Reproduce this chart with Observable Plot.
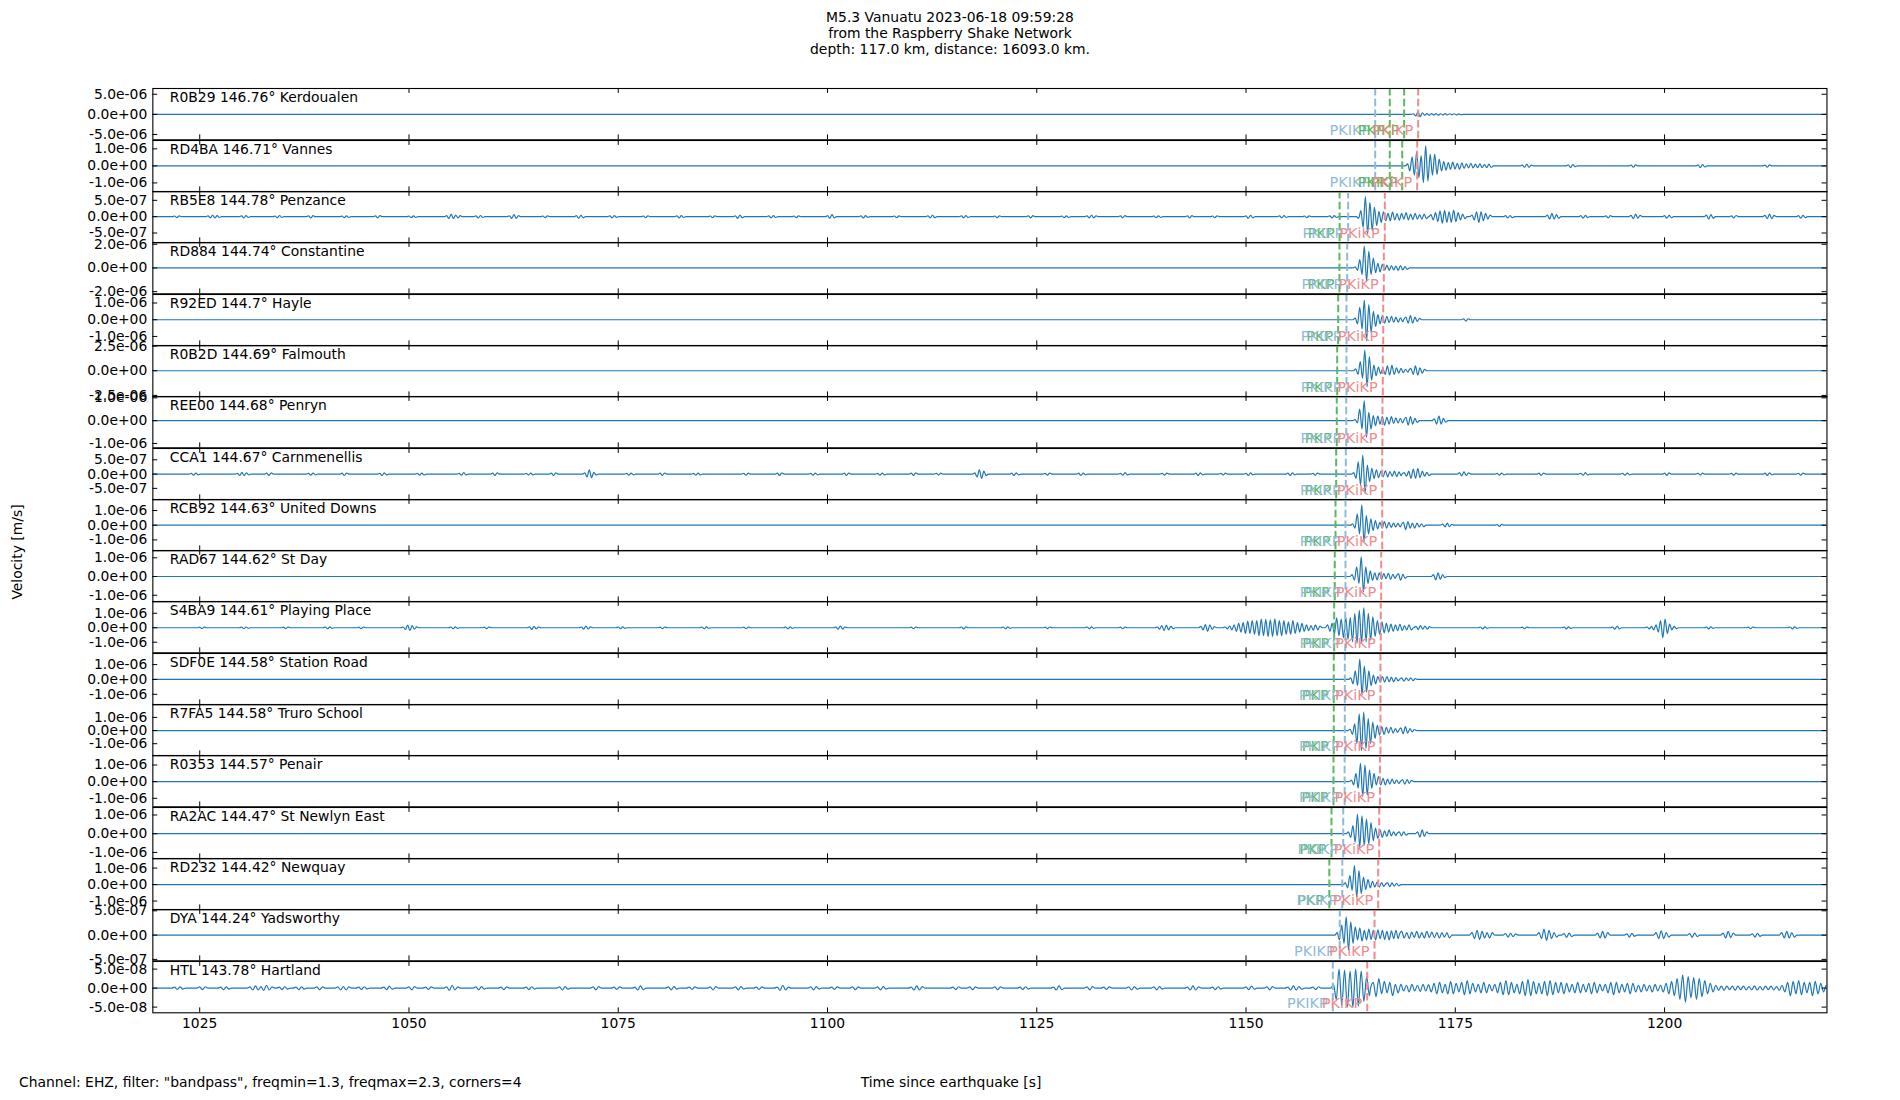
<!DOCTYPE html>
<html><head><meta charset="utf-8">
<script src="https://cdn.jsdelivr.net/npm/d3@7"></script>
<script src="https://cdn.jsdelivr.net/npm/@observablehq/plot@0.6"></script>
<style>
html,body{margin:0;padding:0;background:#fff;}
#fig{position:relative;width:1900px;height:1100px;font-family:"DejaVu Sans",sans-serif;color:#000;overflow:hidden;}
.panel{position:absolute;left:0;width:1900px;}
.t{position:absolute;font-size:13.9px;white-space:nowrap;line-height:16px;}
</style></head>
<body><div id="fig"></div>
<script>
// ---------- data ----------
const titleLines = ["M5.3 Vanuatu 2023-06-18 09:59:28", "from the Raspberry Shake Network", "depth: 117.0 km, distance: 16093.0 km."];
const yLabel = "Velocity [m/s]";
const xLabel = "Time since earthquake [s]";
const caption = 'Channel: EHZ, filter: "bandpass", freqmin=1.3, freqmax=2.3, corners=4';

const stations = ["R0B29","RD4BA","RB5E8","RD884","R92ED","R0B2D","REE00","CCA1","RCB92","RAD67","S4BA9","SDF0E","R7FA5","R0353","RA2AC","RD232","DYA","HTL"];
const distances = [146.76,146.71,144.78,144.74,144.7,144.69,144.68,144.67,144.63,144.62,144.61,144.58,144.58,144.57,144.47,144.42,144.24,143.78];
const places = ["Kerdoualen","Vannes","Penzance","Constantine","Hayle","Falmouth","Penryn","Carnmenellis","United Downs","St Day","Playing Place","Station Road","Truro School","Penair","St Newlyn East","Newquay","Yadsworthy","Hartland"];

const xDomain = [1019.4, 1219.4];
const xTicks = [1025,1050,1075,1100,1125,1150,1175,1200];
const yTicks = [5e-6,1e-6,5e-7,2e-6,1e-6,2.5e-6,1e-6,5e-7,1e-6,1e-6,1e-6,1e-6,1e-6,1e-6,1e-6,1e-6,5e-7,5e-8];
const yMax = [6.43e-6,1.49e-6,7.7e-7,2.15e-6,1.51e-6,2.56e-6,1.06e-6,8.95e-7,1.75e-6,1.39e-6,1.81e-6,1.75e-6,1.98e-6,1.57e-6,1.40e-6,1.58e-6,5.27e-7,7.0e-8];
const yMin = [-6.33e-6,-1.52e-6,-8.0e-7,-2.18e-6,-1.56e-6,-2.64e-6,-1.19e-6,-9.0e-7,-1.74e-6,-1.35e-6,-1.73e-6,-1.71e-6,-1.92e-6,-1.51e-6,-1.34e-6,-1.53e-6,-5.29e-7,-6.5e-8];

// phase arrival times [s]
const phaseNames = ["PKIKP","PKP","PKP","PKiKP"];
const tPKIKP = [1165.43,1165.43,1162.2,1162.08,1162.0,1162.0,1161.97,1161.92,1161.88,1161.88,1161.85,1161.8,1161.8,1161.78,1161.61,1161.5,1161.2,1160.37];
const tPKP1  = [1167.17,1167.17,1161.18,1161.16,1161.01,1160.89,1160.84,1160.77,1160.69,1160.6,1160.53,1160.48,1160.48,1160.45,1160.21,1159.95,null,null];
const tPKP2  = [1168.89,1168.66,null,null,null,null,null,null,null,null,null,null,null,null,null,null,null,null];
const tPKiKP = [1170.57,1170.45,1166.58,1166.46,1166.39,1166.34,1166.3,1166.27,1166.27,1166.15,1166.1,1166.06,1166.06,1166.0,1165.91,1165.79,1165.35,1164.48];

// main arrival wavelets: start time, sample step [s], extrema in units of each panel's tick value
const waveStart = [1170.0,1169.3,1163.45,1163.05,1163.05,1163.11,1163.04,1162.87,1162.75,1162.68,1159.75,1162.51,1162.44,1162.59,1162.23,1161.87,1160.89,1160.45];
const waveStep = [0.27,0.27,0.27,0.27,0.27,0.27,0.27,0.27,0.27,0.27,0.27,0.27,0.27,0.27,0.27,0.27,0.27,0.33];
const waveAmps = [
  [0.03,-0.08,0.13,-0.12,0.08,-0.05,0.04,-0.05,0.04,-0.03,0.04,-0.04,0.03,-0.03,0.04,-0.03,0.03,-0.02,0.03,-0.03,0.02,-0.02],
  [0.12,-0.3,0.53,-0.55,0.82,-0.69,0.6,-0.98,1.18,-0.9,0.69,-0.55,0.69,-0.5,0.4,-0.3,0.25,-0.25,0.2,-0.2,0.22,-0.18,0.15,-0.2,0.18,-0.15,0.12,-0.12,0.15,-0.12,0.1,-0.1,0.12,-0.1,0.08,-0.1,0.1,-0.08],
  [-0.1,0.37,-0.65,1.23,-1.06,0.88,-0.86,0.57,-0.55,0.33,-0.35,0.3,-0.25,0.2,-0.25,0.28,-0.2,0.18,-0.22,0.2,-0.15,0.25,-0.2,0.15,-0.18,0.2,-0.15,0.12,-0.15,0.15,-0.12],
  [0.05,-0.1,0.35,-0.28,0.92,-0.56,0.7,-0.28,0.42,-0.2,0.2,-0.17,0.15,-0.1,0.12,-0.1,0.1,-0.08,0.08,-0.1,0.1,-0.08,0.06,-0.06],
  [0.1,-0.25,0.74,-0.56,1.18,-1.26,0.9,-0.76,0.5,-0.4,0.3,-0.25,0.25,-0.2,0.2,-0.18,0.2,-0.15,0.15,-0.15,0.12,-0.12],
  [0.08,-0.15,0.37,-0.3,0.84,-0.65,0.57,-0.38,0.23,-0.2,0.15,-0.12,0.1,-0.15,0.2,-0.18,0.22,-0.15,0.12,-0.1,0.1,-0.08,0.06,-0.06],
  [0.05,-0.1,0.51,-0.37,0.88,-0.73,0.37,-0.37,0.22,-0.22,0.2,-0.15,0.18,-0.2,0.15,-0.15,0.18,-0.12,0.12,-0.1,0.1,-0.1],
  [0.1,-0.3,0.86,-0.77,1.33,-1.35,0.63,-0.53,0.4,-0.3,0.3,-0.25,0.2,-0.2,0.25,-0.2,0.18,-0.15,0.2,-0.18,0.15,-0.12],
  [0.1,-0.2,0.77,-0.59,1.38,-1.16,0.66,-0.59,0.43,-0.36,0.32,-0.25,0.2,-0.2,0.25,-0.2,0.2,-0.15,0.15,-0.12,0.12,-0.12],
  [0.1,-0.2,0.52,-0.37,1.05,-0.82,0.52,-0.37,0.3,-0.2,0.2,-0.18,0.2,-0.15,0.15,-0.12,0.18,-0.15,0.12,-0.1],
  [0.2,-0.25,0.3,-0.4,0.69,-0.55,0.6,-0.7,0.75,-0.8,0.7,-0.97,1.0,-1.08,1.2,-1.08,1.38,-0.97,1.0,-0.85,0.75,-0.6,0.5,-0.45,0.4,-0.35,0.3,-0.3,0.25,-0.25,0.2,-0.2,0.25,-0.2,0.15,-0.15,0.2,-0.15],
  [0.1,-0.3,0.58,-0.42,1.37,-1.06,0.9,-0.85,0.58,-0.42,0.3,-0.3,0.2,-0.2,0.2,-0.18,0.2,-0.15,0.15,-0.15,0.12,-0.1],
  [0.1,-0.3,0.5,-1.0,1.27,-1.52,1.4,-1.37,0.9,-0.99,0.65,-0.6,0.4,-0.35,0.3,-0.3,0.25,-0.2,0.25,-0.2,0.15,-0.15],
  [0.1,-0.2,0.5,-0.4,1.1,-0.9,1.0,-0.8,0.7,-0.4,0.5,-0.2,0.3,-0.2,0.2,-0.2,0.15,-0.15,0.15,-0.12,0.1,-0.1],
  [0.1,-0.2,0.43,-0.46,1.05,-0.73,0.96,-0.64,0.78,-0.55,0.6,-0.37,0.3,-0.25,0.2,-0.2,0.15,-0.15,0.2,-0.12,0.1,-0.1],
  [0.1,-0.2,0.55,-0.35,1.15,-0.75,0.85,-0.55,0.45,-0.3,0.3,-0.2,0.2,-0.15,0.15,-0.15,0.12,-0.1],
  [0.1,-0.2,0.41,-0.34,0.75,-0.62,0.55,-0.34,0.34,-0.2,0.3,-0.25,0.2,-0.2,0.25,-0.18,0.2,-0.2,0.22,-0.15,0.2,-0.18,0.15,-0.2,0.18,-0.15,0.2,-0.15],
  [0.2,-0.6,1.0,-0.9,0.95,-1.0,0.9,-1.0,1.0,-0.95,0.9,-0.7,0.6,-0.4]
];

// other wave packets: [panel, start, step, extrema in tick units]
const bursts = [
  [1,1183,0.27,[0.05,-0.08,0.1,-0.08,0.05]],[1,1188.5,0.27,[0.06,-0.1,0.08,-0.05]],[1,1196,0.27,[0.05,-0.08,0.06]],[1,1204,0.27,[0.06,-0.1,0.08,-0.06]],[1,1212,0.27,[0.05,-0.08,0.06]],
  [2,1026,0.27,[0.05,-0.08,0.1,-0.08,0.06,-0.05]],[2,1054.5,0.27,[0.06,-0.12,0.15,-0.12,0.1,-0.08,0.06]],[2,1062,0.27,[0.05,-0.1,0.12,-0.1,0.06]],
  [2,1070,0.27,[0.06,-0.1,0.08,-0.06]],[2,1089,0.27,[0.05,-0.1,0.1,-0.06]],[2,1100,0.27,[0.06,-0.1,0.12,-0.08]],[2,1112,0.27,[0.05,-0.08,0.1,-0.06]],
  [2,1131,0.27,[0.05,-0.08,0.1,-0.08,0.05]],[2,1150,0.27,[0.05,-0.1,0.08,-0.06]],
  [2,1022,0.27,[0.04,-0.06,0.05]],[2,1030,0.27,[0.05,-0.07,0.06,-0.05]],[2,1034,0.27,[0.04,-0.06,0.07,-0.05]],[2,1038,0.27,[0.05,-0.08,0.06]],
  [2,1042,0.27,[0.04,-0.06,0.05,-0.04]],[2,1046,0.27,[0.05,-0.07,0.06]],[2,1050,0.27,[0.04,-0.06,0.05,-0.05]],[2,1058,0.27,[0.05,-0.08,0.07,-0.05]],
  [2,1066,0.27,[0.04,-0.06,0.05]],[2,1074,0.27,[0.05,-0.07,0.06,-0.04]],[2,1078,0.27,[0.04,-0.06,0.05]],[2,1082,0.27,[0.05,-0.08,0.06,-0.05]],
  [2,1086,0.27,[0.04,-0.06,0.05]],[2,1093,0.27,[0.05,-0.07,0.06,-0.05]],[2,1096,0.27,[0.04,-0.06,0.05]],[2,1104,0.27,[0.05,-0.08,0.06,-0.04]],
  [2,1108,0.27,[0.04,-0.06,0.05]],[2,1116,0.27,[0.05,-0.07,0.06,-0.05]],[2,1120,0.27,[0.04,-0.06,0.05]],[2,1124,0.27,[0.05,-0.08,0.06]],
  [2,1128,0.27,[0.04,-0.06,0.05,-0.04]],[2,1135,0.27,[0.05,-0.07,0.06]],[2,1139,0.27,[0.04,-0.06,0.05,-0.05]],[2,1143,0.27,[0.05,-0.08,0.06]],
  [2,1146,0.27,[0.04,-0.06,0.05]],[2,1154,0.27,[0.05,-0.07,0.06,-0.05]],[2,1157,0.27,[0.04,-0.06,0.05]],[2,1160,0.27,[0.05,-0.08,0.06,-0.05]],
  [2,1172.1,0.27,[0.12,-0.2,0.25,-0.3,0.35,-0.4,0.38,-0.35,0.3,-0.35,0.4,-0.3,0.25,-0.2,0.15,-0.12]],
  [2,1177,0.27,[0.1,-0.2,0.3,-0.35,0.3,-0.25,0.2,-0.15,0.1]],[2,1186,0.27,[0.1,-0.15,0.2,-0.15,0.12,-0.1]],[2,1196,0.27,[0.08,-0.12,0.15,-0.1,0.08]],
  [2,1205,0.27,[0.1,-0.15,0.12,-0.1]],[2,1212,0.27,[0.08,-0.12,0.15,-0.12,0.08]],
  [2,1181,0.27,[0.06,-0.08,0.07,-0.06]],[2,1190,0.27,[0.06,-0.09,0.08,-0.05]],[2,1193,0.27,[0.05,-0.07,0.06]],[2,1200,0.27,[0.06,-0.09,0.08,-0.06]],
  [2,1208,0.27,[0.05,-0.08,0.07]],[2,1216,0.27,[0.06,-0.09,0.08,-0.06]],
  [4,1169.1,0.27,[0.15,-0.2,0.25,-0.2,0.15,-0.1,0.08]],[4,1176,0.27,[0.05,-0.08,0.06]],
  [5,1169.7,0.27,[0.1,-0.15,0.2,-0.18,0.12,-0.1,0.06]],
  [6,1169.1,0.27,[0.15,-0.2,0.18,-0.15,0.1,-0.08]],[6,1172.5,0.27,[0.08,-0.15,0.2,-0.15,0.1,-0.06]],
  [7,1029.5,0.27,[0.05,-0.1,0.12,-0.1,0.08,-0.05]],[7,1046.5,0.27,[0.05,-0.1,0.08,-0.06]],[7,1056,0.27,[0.05,-0.08,0.1,-0.06]],
  [7,1071,0.27,[0.08,-0.2,0.3,-0.25,0.12,-0.06]],[7,1090,0.27,[0.05,-0.08,0.06]],[7,1117.6,0.27,[0.08,-0.2,0.3,-0.3,0.2,-0.1]],
  [7,1135,0.27,[0.05,-0.08,0.1,-0.06]],[7,1150,0.27,[0.05,-0.1,0.08,-0.05]],
  [7,1024,0.27,[0.05,-0.08,0.07,-0.05]],[7,1033,0.27,[0.06,-0.09,0.08]],[7,1038,0.27,[0.05,-0.08,0.07,-0.05]],[7,1042,0.27,[0.06,-0.09,0.07]],
  [7,1051,0.27,[0.05,-0.08,0.07,-0.06]],[7,1060,0.27,[0.06,-0.09,0.08]],[7,1064,0.27,[0.05,-0.07,0.06,-0.05]],[7,1067,0.27,[0.06,-0.1,0.08]],
  [7,1076,0.27,[0.05,-0.08,0.07,-0.05]],[7,1080,0.27,[0.06,-0.09,0.07]],[7,1084,0.27,[0.05,-0.08,0.06,-0.05]],[7,1094,0.27,[0.06,-0.09,0.08]],
  [7,1098,0.27,[0.05,-0.08,0.07,-0.05]],[7,1102,0.27,[0.06,-0.09,0.07]],[7,1106,0.27,[0.05,-0.08,0.07,-0.06]],[7,1110,0.27,[0.06,-0.09,0.08]],
  [7,1113,0.27,[0.05,-0.07,0.06]],[7,1122,0.27,[0.06,-0.09,0.08,-0.05]],[7,1126,0.27,[0.05,-0.08,0.07]],[7,1130,0.27,[0.06,-0.09,0.07,-0.05]],
  [7,1140,0.27,[0.05,-0.08,0.07]],[7,1144,0.27,[0.06,-0.09,0.08,-0.05]],[7,1147,0.27,[0.05,-0.07,0.06]],[7,1155,0.27,[0.06,-0.09,0.08,-0.05]],
  [7,1158,0.27,[0.05,-0.08,0.07]],
  [7,1168.9,0.27,[0.1,-0.15,0.2,-0.3,0.35,-0.3,0.38,-0.25,0.2,-0.15,0.12,-0.1]],[7,1175.5,0.27,[0.1,-0.12,0.15,-0.1,0.08]],
  [7,1190,0.27,[0.05,-0.08,0.1,-0.06]],[7,1208,0.27,[0.05,-0.08,0.06]],
  [7,1180,0.27,[0.05,-0.08,0.07,-0.05]],[7,1185,0.27,[0.06,-0.09,0.07]],[7,1195,0.27,[0.05,-0.08,0.07,-0.05]],[7,1200,0.27,[0.06,-0.09,0.08]],
  [7,1204,0.27,[0.05,-0.07,0.06]],[7,1212,0.27,[0.06,-0.09,0.08,-0.05]],[7,1216,0.27,[0.05,-0.08,0.07]],
  [8,1168.8,0.27,[0.2,-0.3,0.25,-0.2,0.15,-0.2,0.15,-0.12,0.1,-0.1]],[8,1173.5,0.27,[0.08,-0.12,0.15,-0.1,0.06]],[8,1180,0.27,[0.05,-0.08,0.06]],
  [9,1168.2,0.27,[0.15,-0.2,0.12,-0.1]],[9,1172.4,0.27,[0.1,-0.18,0.2,-0.15,0.1,-0.06]],
  [10,1049.3,0.27,[0.05,-0.12,0.18,-0.2,0.15,-0.1,0.06]],[10,1064.4,0.27,[0.06,-0.12,0.1,-0.08,0.05]],[10,1070.6,0.27,[0.05,-0.1,0.12,-0.1,0.06]],
  [10,1101,0.27,[0.05,-0.1,0.12,-0.1,0.05]],[10,1116,0.27,[0.05,-0.08,0.06]],
  [10,1025,0.27,[0.04,-0.06,0.05]],[10,1030,0.27,[0.05,-0.07,0.05,-0.04]],[10,1035,0.27,[0.04,-0.06,0.05]],[10,1040,0.27,[0.05,-0.07,0.06,-0.04]],
  [10,1044,0.27,[0.04,-0.06,0.05]],[10,1055,0.27,[0.05,-0.07,0.06,-0.04]],[10,1059,0.27,[0.04,-0.06,0.05]],[10,1075,0.27,[0.05,-0.07,0.06,-0.04]],
  [10,1080,0.27,[0.04,-0.06,0.05]],[10,1085,0.27,[0.05,-0.07,0.06,-0.04]],[10,1090,0.27,[0.04,-0.06,0.05]],[10,1095,0.27,[0.05,-0.07,0.06,-0.04]],
  [10,1110,0.27,[0.04,-0.06,0.05]],[10,1121,0.27,[0.05,-0.07,0.06,-0.04]],[10,1126,0.27,[0.04,-0.06,0.05]],[10,1131,0.27,[0.05,-0.07,0.06,-0.04]],
  [10,1135,0.27,[0.04,-0.06,0.05]],
  [10,1139.4,0.27,[0.05,-0.1,0.15,-0.2,0.18,-0.15,0.1,-0.06]],[10,1144.6,0.27,[0.1,-0.15,0.22,-0.25,0.2,-0.12,0.08]],
  [10,1147.5,0.27,[0.05,-0.08,0.12,-0.15,0.2,-0.25,0.3,-0.3,0.35,-0.4,0.45,-0.4,0.5,-0.45,0.5,-0.55,0.6,-0.55,0.58,-0.6,0.55,-0.6,0.62,-0.55,0.5,-0.55,0.5,-0.45,0.4,-0.45,0.5,-0.4,0.35,-0.3,0.3,-0.25,0.2,-0.2,0.15,-0.18,0.2,-0.15,0.12]],
  [10,1170.3,0.27,[0.1,-0.12,0.15,-0.1,0.12,-0.1,0.08]],[10,1193.8,0.27,[0.05,-0.1,0.12,-0.08]],
  [10,1178,0.27,[0.05,-0.08,0.06,-0.04]],[10,1183,0.27,[0.04,-0.07,0.05]],[10,1188,0.27,[0.05,-0.08,0.06,-0.04]],
  [10,1205,0.27,[0.05,-0.08,0.06,-0.04]],[10,1210,0.27,[0.04,-0.07,0.05]],[10,1215,0.27,[0.05,-0.08,0.06,-0.04]],
  [10,1197.9,0.27,[0.05,-0.08,0.1,-0.15,0.2,-0.3,0.5,-0.7,0.6,-0.4,0.25,-0.15,0.1,-0.06]],
  [11,1168.6,0.27,[0.1,-0.12,0.1,-0.08,0.1,-0.08,0.06]],
  [12,1168.5,0.27,[0.2,-0.25,0.3,-0.2,0.15,-0.1,0.08]],
  [13,1168.7,0.27,[0.12,-0.15,0.12,-0.1,0.08]],
  [14,1168.3,0.27,[0.1,-0.12,0.1,-0.08]],[14,1170.5,0.27,[0.1,-0.18,0.2,-0.15,0.1]],
  [15,1166.9,0.27,[0.1,-0.12,0.1,-0.1,0.08,-0.08]],
  [16,1168.6,0.3,[0.15,-0.12,0.1,-0.15,0.12,-0.1,0.15,-0.12,0.1,-0.12,0.15,-0.1,0.12,-0.1,0.1,-0.12,0.1,-0.08,0.1,-0.12]],
  [16,1177,0.3,[0.1,-0.15,0.2,-0.18,0.15,-0.12,0.1,-0.12,0.1]],[16,1185,0.3,[0.1,-0.15,0.25,-0.22,0.2,-0.15,0.1,-0.08]],
  [16,1192,0.3,[0.08,-0.12,0.15,-0.12,0.1]],[16,1199,0.3,[0.1,-0.15,0.18,-0.15,0.1,-0.08]],
  [16,1207,0.3,[0.08,-0.12,0.15,-0.1,0.08]],[16,1214,0.3,[0.1,-0.12,0.15,-0.12,0.1,-0.08]],
  [16,1181,0.3,[0.06,-0.08,0.07,-0.06,0.05]],[16,1188,0.3,[0.06,-0.09,0.08,-0.06]],[16,1195.5,0.3,[0.05,-0.08,0.07,-0.05]],
  [16,1203,0.3,[0.06,-0.09,0.08,-0.06]],[16,1210.5,0.3,[0.05,-0.08,0.07,-0.05]],
  [17,1027.5,0.33,[0.05,-0.08,0.06,-0.05]],[17,1031,0.33,[0.06,-0.1,0.12,-0.1,0.08,-0.12,0.15,-0.1,0.06]],[17,1036.5,0.33,[0.05,-0.08,0.06,-0.05]],
  [17,1041.5,0.33,[0.06,-0.1,0.08,-0.1,0.06]],[17,1047,0.33,[0.05,-0.08,0.1,-0.06]],[17,1054.5,0.33,[0.06,-0.12,0.15,-0.1,0.06]],
  [17,1061,0.33,[0.05,-0.08,0.06]],[17,1068,0.33,[0.06,-0.1,0.08,-0.06]],[17,1077,0.33,[0.05,-0.1,0.12,-0.08]],
  [17,1086,0.33,[0.06,-0.1,0.08]],[17,1094,0.33,[0.05,-0.12,0.15,-0.1,0.05]],[17,1103,0.33,[0.06,-0.08,0.06]],
  [17,1110,0.33,[0.05,-0.1,0.12,-0.1,0.08]],[17,1120,0.33,[0.06,-0.08,0.06]],[17,1127,0.33,[0.05,-0.1,0.12,-0.08]],
  [17,1136,0.33,[0.06,-0.1,0.08,-0.06]],[17,1143,0.33,[0.05,-0.1,0.12,-0.1,0.06]],[17,1150,0.33,[0.06,-0.08,0.1,-0.06]],
  [17,1155,0.33,[0.05,-0.1,0.12,-0.1,0.08,-0.06]],
  [17,1022,0.33,[0.05,-0.07,0.06,-0.05]],[17,1025,0.33,[0.06,-0.08,0.07]],[17,1034.5,0.33,[0.05,-0.08,0.07,-0.05]],[17,1039,0.33,[0.06,-0.08,0.06]],
  [17,1044,0.33,[0.05,-0.08,0.07,-0.05]],[17,1050,0.33,[0.06,-0.09,0.08]],[17,1052,0.33,[0.05,-0.07,0.06]],[17,1058,0.33,[0.06,-0.09,0.08,-0.05]],
  [17,1064,0.33,[0.05,-0.08,0.07,-0.05]],[17,1072,0.33,[0.06,-0.09,0.08]],[17,1074.5,0.33,[0.05,-0.07,0.06]],[17,1081,0.33,[0.06,-0.09,0.08,-0.05]],
  [17,1083.5,0.33,[0.05,-0.07,0.06]],[17,1089,0.33,[0.06,-0.09,0.08,-0.05]],[17,1091.5,0.33,[0.05,-0.07,0.06]],[17,1098,0.33,[0.06,-0.09,0.08,-0.05]],
  [17,1100.5,0.33,[0.05,-0.07,0.06]],[17,1106,0.33,[0.06,-0.09,0.08,-0.05]],[17,1115,0.33,[0.05,-0.08,0.07]],[17,1117,0.33,[0.06,-0.08,0.06]],
  [17,1123,0.33,[0.05,-0.08,0.07,-0.05]],[17,1131,0.33,[0.06,-0.09,0.08]],[17,1133,0.33,[0.05,-0.07,0.06]],[17,1139,0.33,[0.06,-0.09,0.08,-0.05]],
  [17,1146,0.33,[0.05,-0.08,0.07,-0.05]],[17,1152.5,0.33,[0.06,-0.09,0.08]],[17,1158,0.33,[0.05,-0.08,0.07]],
  [17,1165.2,0.33,[0.3,-0.45,0.5,-0.3,0.35,-0.25,0.3,-0.4,0.2,-0.25,
                   0.2,-0.15,0.15,-0.2,0.2,-0.15,0.15,-0.18,0.2,-0.15,
                   0.18,-0.2,0.25,-0.3,0.3,-0.25,0.2,-0.3,0.35,-0.3,
                   0.25,-0.2,0.3,-0.35,0.4,-0.3,0.25,-0.2,0.2,-0.25,
                   0.3,-0.25,0.2,-0.15,0.2,-0.25,0.3,-0.35,0.4,-0.35,
                   0.3,-0.25,0.2,-0.3,0.35,-0.4,0.45,-0.4,0.35,-0.3,
                   0.25,-0.3,0.35,-0.4,0.4,-0.35,0.3,-0.25,0.3,-0.3,
                   0.25,-0.2,0.2,-0.25,0.3,-0.25,0.2,-0.2,0.25,-0.3,
                   0.3,-0.25,0.2,-0.15,0.2,-0.25,0.3,-0.35,0.3,-0.25,
                   0.2,-0.2,0.25,-0.3,0.25,-0.2,0.15,-0.2,0.2,-0.15,
                   0.15,-0.2,0.2,-0.15,0.15,-0.2,0.25,-0.3,0.35,-0.4,
                   0.5,-0.6,0.7,-0.75,0.6,-0.5,0.55,-0.6,0.5,-0.45,
                   0.4,-0.3,0.25,-0.2,0.15,-0.12,0.1,-0.12,0.1,-0.08,
                   0.1,-0.12,0.1,-0.08,0.1,-0.1,0.08,-0.1,0.12,-0.1,
                   0.08,-0.1,0.1,-0.08,0.1,-0.1,0.08,-0.12,0.15,-0.2,
                   0.3,-0.4,0.35,-0.3,0.4,-0.35,0.3,-0.25,0.3,-0.4,
                   0.35,-0.3,0.25,-0.2,0.15,-0.2,0.3,-0.25,0.2,-0.1]]
];

// ---------- layout / style ----------
const W = 1900, panelTop = 88.4, panelH = 51.3, mLeft = 152.3, mRight = 73.5;
const traceColor = "#1f77b4";
const phaseColor = {PKIKP: "#8fbbd9", PKP: "#5cb85c", PKiKP: "#ee8c8c"};
const FS = 13.9;

function sci(v) {
  if (v === 0) return "0.0e+00";
  const [m, e] = v.toExponential(1).split("e");
  const n = +e;
  return m + "e" + (n < 0 ? "-" : "+") + String(Math.abs(n)).padStart(2, "0");
}

function trace(i) {
  const segs = [[waveStart[i], waveStep[i], waveAmps[i]], ...bursts.filter(b => b[0] === i).map(b => b.slice(1))]
    .sort((a, b) => a[0] - b[0]);
  const pts = [{t: xDomain[0], v: 0}];
  segs.forEach(([t0, dt, vals], k) => {
    const last = pts[pts.length - 1].t;
    if (t0 - dt > last) pts.push({t: t0 - dt, v: 0});
    vals.forEach((a, j) => { const t = t0 + j * dt; if (t > pts[pts.length - 1].t) pts.push({t, v: a * yTicks[i]}); });
    const end = t0 + vals.length * dt;
    const next = segs[k + 1] ? segs[k + 1][0] - segs[k + 1][1] : Infinity;
    if (end < next) pts.push({t: end, v: 0});
  });
  pts.push({t: xDomain[1], v: 0});
  return pts;
}

const fig = document.getElementById("fig");
function addText(txt, css) {
  const d = document.createElement("div");
  d.className = "t";
  d.textContent = txt;
  Object.assign(d.style, css);
  fig.appendChild(d);
  return d;
}

addText(titleLines.join("\n"), {left: "950px", top: "9px", transform: "translateX(-50%)", textAlign: "center", whiteSpace: "pre"});
addText(yLabel, {left: "17px", top: "552px", transform: "translate(-50%,-50%) rotate(-90deg)"});
addText(caption, {left: "19px", top: "1074px"});
addText(xLabel, {left: "951px", top: "1074px", transform: "translateX(-50%)"});

const plotW = W - mLeft - mRight;
const tick = 4.9;

stations.forEach((st, i) => {
  const last = i === stations.length - 1;
  const phases = [
    {t: tPKIKP[i], name: phaseNames[0]},
    {t: tPKP1[i], name: phaseNames[1]},
    {t: tPKP2[i], name: phaseNames[2]},
    {t: tPKiKP[i], name: phaseNames[3]}
  ].filter(d => d.t != null).sort((a, b) => a.t - b.t);
  const yt = [-yTicks[i], 0, yTicks[i]];
  const label = `${st} ${distances[i]}° ${places[i]}`;
  const marks = [
    Plot.line(trace(i), {x: "t", y: "v", stroke: traceColor, strokeWidth: 1.2, curve: "monotone-x", clip: true}),
    Plot.ruleX(phases, {x: "t", stroke: d => phaseColor[d.name], strokeWidth: 2, strokeDasharray: "7.5,3.2"}),
    Plot.text(phases, {x: "t", text: "name", fill: d => phaseColor[d.name], textAnchor: "end", dx: -5,
      frameAnchor: "bottom", lineAnchor: "bottom", dy: -5, fontSize: 14.5}),
    Plot.text([label], {text: d => d, frameAnchor: "top-left", dx: 17, dy: 3.5, lineAnchor: "top", textAnchor: "start", fontSize: FS}),
    Plot.tickX(xTicks, {x: d => d, stroke: "#000", strokeWidth: 1, insetBottom: panelH - tick}),
    Plot.tickX(xTicks, {x: d => d, stroke: "#000", strokeWidth: 1, insetTop: panelH - tick}),
    Plot.tickY(yt, {y: d => d, stroke: "#000", strokeWidth: 1, insetRight: plotW - tick}),
    Plot.tickY(yt, {y: d => d, stroke: "#000", strokeWidth: 1, insetLeft: plotW - tick}),
    Plot.axisY(yt, {anchor: "left", tickSize: 0, tickPadding: 5.6, tickFormat: sci, fontSize: FS, label: null}),
    Plot.frame({stroke: "#000", strokeWidth: 1.1})
  ];
  if (last) marks.push(Plot.axisX(xTicks, {anchor: "bottom", tickSize: 0, tickPadding: 5, fontSize: FS, label: null, tickFormat: d => String(d)}));
  const p = Plot.plot({
    width: W,
    height: panelH + (last ? 40 : 0),
    marginTop: 0, marginBottom: last ? 40 : 0, marginLeft: mLeft, marginRight: mRight,
    x: {domain: xDomain, axis: last ? undefined : null, label: null},
    y: {domain: [yMin[i], yMax[i]], label: null},
    style: {fontFamily: "DejaVu Sans", fontSize: FS + "px", background: "transparent", overflow: "visible", color: "#000"},
    marks
  });
  const div = document.createElement("div");
  div.className = "panel";
  div.style.top = (panelTop + i * panelH) + "px";
  div.appendChild(p);
  fig.appendChild(div);
});
</script>
</body></html>
